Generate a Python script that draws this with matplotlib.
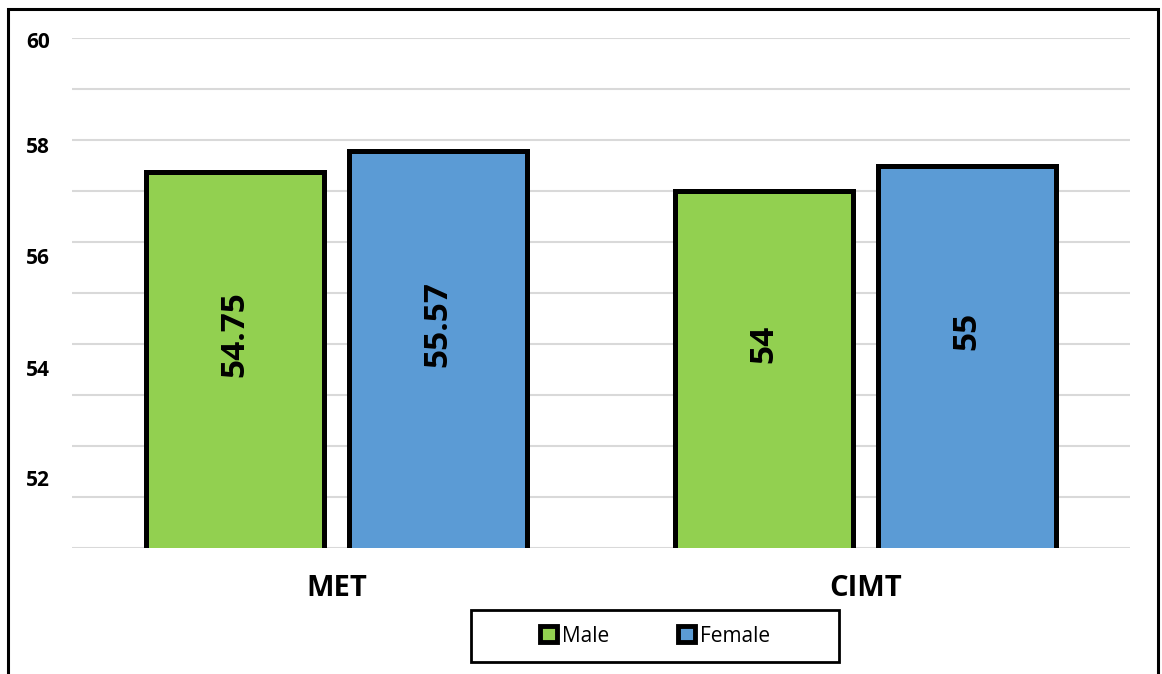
import numpy as np
import matplotlib
matplotlib.use("Agg")
import matplotlib.pyplot as plt
from matplotlib.patches import Patch, Rectangle

plt.rcParams['font.family'] = ['Open Sans', 'DejaVu Sans']

categories = ['MET', 'CIMT']
male = [54.75, 54]
female = [55.57, 55]
series_names = ['Male', 'Female']
ytick_labels = ['60', '58', '56', '54', '52']

green = '#92D050'
blue = '#5B9BD5'

W, H = 1162, 674
fig = plt.figure(figsize=(W / 100, H / 100), dpi=100)
ax = fig.add_axes([72 / W, 1 - 548 / H, (1130 - 72) / W, (548 - 38) / H])

x = np.arange(len(categories))
w = 0.338
off = 0.192
b1 = ax.bar(x - off, male, w, color=green, edgecolor='black', linewidth=3.6, zorder=3)
b2 = ax.bar(x + off, female, w, color=blue, edgecolor='black', linewidth=3.6, zorder=3)

ax.set_ylim(40, 60)
ax.set_xlim(-0.5, 1.5)

# value labels inside the bars
for bars, vals in [(b1, male), (b2, female)]:
    for rect, v in zip(bars, vals):
        ax.text(rect.get_x() + rect.get_width() / 2, (42 + v) / 2, f'{v:g}',
                rotation=90, ha='center', va='center', fontsize=24,
                fontweight='bold', color='black', zorder=4)

# gridlines every 2 units, labels placed on their own ticks
ax.set_yticks(np.arange(40, 61, 2), minor=True)
ax.set_yticks([59.92, 55.8, 51.45, 47.06, 42.75])
ax.set_yticklabels(ytick_labels, fontsize=15, fontweight='bold')
ax.grid(axis='y', which='minor', color='#D9D9D9', linewidth=1.5, zorder=0)
ax.tick_params(axis='y', which='both', length=0, pad=16)

ax.set_xticks(x)
ax.set_xticklabels(categories, fontsize=21, fontweight='bold')
ax.tick_params(axis='x', length=0, pad=19)

for s in ax.spines.values():
    s.set_visible(False)

handles = [Patch(facecolor=green, edgecolor='black', linewidth=3.5),
           Patch(facecolor=blue, edgecolor='black', linewidth=3.5)]
leg = fig.legend(handles, series_names, loc='center', bbox_to_anchor=(655 / W, 1 - 636 / H),
                 ncol=2, frameon=False, fontsize=15, handlelength=0.8,
                 handleheight=0.8, handletextpad=0.25, columnspacing=3.3)

# legend box
fig.patches.append(Rectangle((471 / W, 1 - 662 / H), (839 - 471) / W, (662 - 610) / H,
                             transform=fig.transFigure, fill=False,
                             edgecolor='black', linewidth=2))

# outer border of the chart area
fig.patches.append(Rectangle((8 / W, -0.02), (1158 - 8) / W, 1.02 - 9 / H,
                             transform=fig.transFigure, fill=False,
                             edgecolor='black', linewidth=2.2))

fig.savefig('out.png', dpi=100)
